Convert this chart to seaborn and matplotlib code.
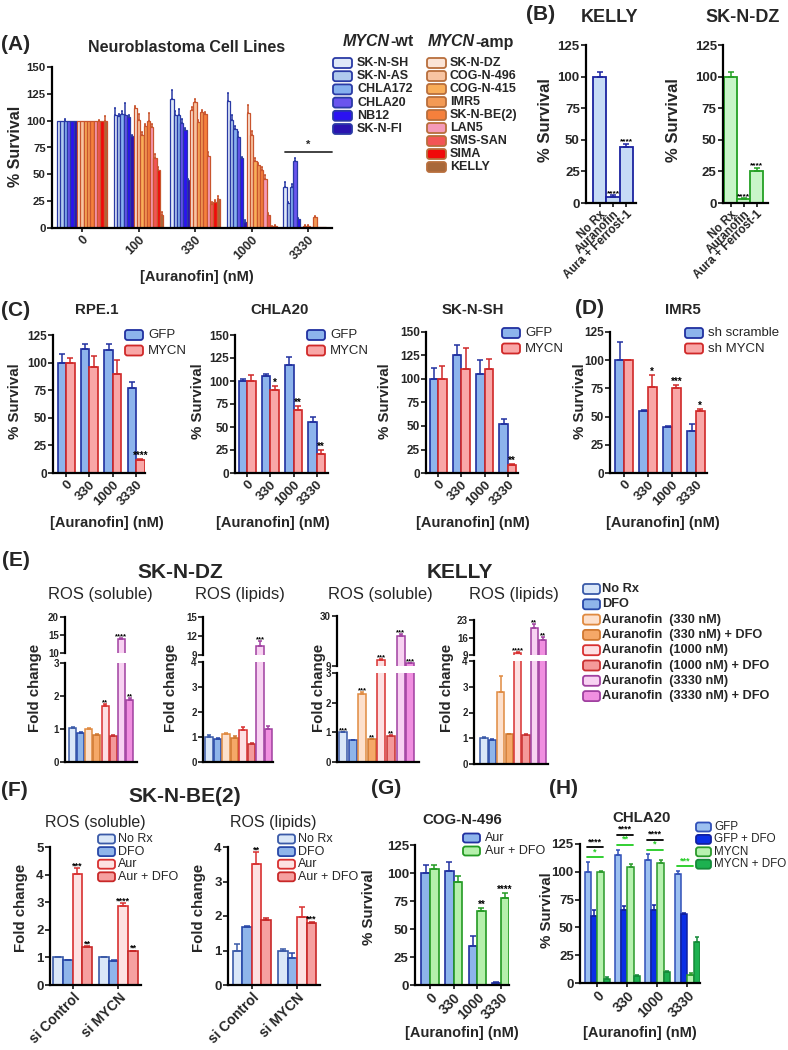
import numpy as np
import pandas as pd
import seaborn as sns
import matplotlib.pyplot as plt
from matplotlib.patches import FancyBboxPatch

W, H = 788, 1050

# ---------------- data ----------------
A_DOSES = ["0", "100", "330", "1000", "3330"]
A_WT = ["SK-N-SH", "SK-N-AS", "CHLA172", "CHLA20", "NB12", "SK-N-FI"]
A_AMP = ["SK-N-DZ", "COG-N-496", "COG-N-415", "IMR5", "SK-N-BE(2)", "LAN5",
         "SMS-SAN", "SIMA", "KELLY"]
# % survival per dose (order: A_WT then A_AMP)
A_SURV_0 = [100, 100, 100, 100, 100, 100, 100, 100, 100, 100, 100, 100, 100, 100, 100]
A_SURV_100 = [105, 104, 106, 105, 103, 86, 112, 101, 87, 95, 100, 94, 65, 54, 12]
A_SURV_330 = [120, 105, 105, 98, 91, 45, 110, 117, 99, 108, 106, 67, 22, 24, 27]
A_SURV_1000 = [118, 101, 92, 85, 65, 6, 107, 87, 62, 59, 54, 46, 12, 1, 1.5]
A_SURV_3330 = [38, 23, 38, 62, 8, 0.5, 1.5, 1.5, 1, 10, 1, 0.5, 0.5, 0.3, 0.2]
A_ERR_0 = [0, 0, 2, 0, 0, 0, 0, 0, 0, 0, 0, 0, 1, 0, 4]
A_ERR_100 = [7, 2, 3, 11, 2, 1, 2, 5, 2, 2, 7, 3, 4, 3, 3]
A_ERR_330 = [9, 4, 6, 4, 2, 1, 3, 3, 2, 2, 2, 4, 2, 2, 3]
A_ERR_1000 = [8, 4, 3, 4, 1, 1, 8, 3, 3, 2, 3, 3, 2, 1, 1]
A_ERR_3330 = [5, 1, 3, 3, 1, 0, 1, 1, 0, 1, 0, 0, 0, 0, 0]

B_TREAT = ["No Rx", "Auranofin", "Aura + Ferrost-1"]
B_KELLY = [100, 5, 44]
B_KELLY_ERR = [4, 1, 3]
B_KELLY_SIG = ["", "****", "****"]
B_SKNDZ = [100, 3, 25]
B_SKNDZ_ERR = [4, 1, 3]
B_SKNDZ_SIG = ["", "****", "****"]

C_DOSES = ["0", "330", "1000", "3330"]
C_GROUPS = ["GFP", "MYCN"]
RPE_GFP = [100, 112, 111, 77]
RPE_GFP_ERR = [8, 5, 6, 5]
RPE_MYCN = [100, 96, 90, 12]
RPE_MYCN_ERR = [4, 10, 12, 1]
RPE_SIG = ["", "", "", "****"]
CHLA20_GFP = [100, 105, 117, 55]
CHLA20_GFP_ERR = [2, 3, 9, 6]
CHLA20_MYCN = [100, 90, 69, 21]
CHLA20_MYCN_ERR = [7, 5, 4, 4]
CHLA20_SIG = ["", "*", "**", "**"]
SKNSH_GFP = [100, 125, 105, 52]
SKNSH_GFP_ERR = [12, 11, 15, 5]
SKNSH_MYCN = [100, 111, 111, 9]
SKNSH_MYCN_ERR = [14, 22, 10, 1]
SKNSH_SIG = ["", "", "", "**"]

D_GROUPS = ["sh scramble", "sh MYCN"]
IMR5_SCR = [100, 55, 41, 37]
IMR5_SCR_ERR = [16, 1, 1, 6]
IMR5_SH = [100, 76, 75, 55]
IMR5_SH_ERR = [0.5, 11, 3, 2]
IMR5_SIG = ["", "*", "***", "*"]

E_COND = ["No Rx", "DFO", "Auranofin  (330 nM)", "Auranofin  (330 nM) + DFO",
          "Auranofin  (1000 nM)", "Auranofin  (1000 nM) + DFO",
          "Auranofin  (3330 nM)", "Auranofin  (3330 nM) + DFO"]
E_DZ_SOL = [1.03, 0.88, 1.0, 0.83, 1.7, 0.8, 13.9, 1.88]
E_DZ_SOL_ERR = [0.02, 0.02, 0.02, 0.01, 0.06, 0.02, 0.3, 0.06]
E_DZ_SOL_SIG = ["", "", "", "", "**", "", "****", "**"]
E_DZ_LIP = [1.0, 0.92, 1.13, 0.95, 1.3, 0.72, 10.5, 1.33]
E_DZ_LIP_ERR = [0.1, 0.06, 0.04, 0.1, 0.12, 0.05, 0.7, 0.1]
E_DZ_LIP_SIG = ["", "", "", "", "", "", "***", ""]
E_KE_SOL = [1.0, 0.74, 2.28, 0.76, 11.5, 0.88, 21.5, 10.2]
E_KE_SOL_ERR = [0.02, 0.01, 0.07, 0.02, 0.3, 0.03, 1.0, 0.2]
E_KE_SOL_SIG = ["***", "", "***", "**", "***", "**", "***", "***"]
E_KE_LIP = [1.02, 0.94, 2.8, 1.15, 10.0, 1.13, 20.0, 15.0]
E_KE_LIP_ERR = [0.03, 0.02, 0.6, 0.03, 0.2, 0.02, 1.5, 1.2]
E_KE_LIP_SIG = ["", "", "", "", "****", "", "**", "**"]

F_SI = ["si Control", "si MYCN"]
F_TREAT = ["No Rx", "DFO", "Aur", "Aur + DFO"]
F_SOL = [[1.0, 1.0], [0.9, 0.87], [4.02, 2.87], [1.38, 1.22]]
F_SOL_ERR = [[0.02, 0.02], [0.02, 0.02], [0.22, 0.1], [0.03, 0.03]]
F_SOL_SIG = [["", ""], ["", ""], ["***", "****"], ["**", "**"]]
F_LIP = [[1.0, 1.0], [1.68, 0.77], [3.5, 1.97], [1.87, 1.8]]
F_LIP_ERR = [[0.2, 0.05], [0.02, 0.15], [0.35, 0.3], [0.08, 0.03]]
F_LIP_SIG = [["", ""], ["", ""], ["**", ""], ["", "***"]]

G_GROUPS = ["Aur", "Aur + DFO"]
G_AUR = [100, 102, 35, 2]
G_AUR_ERR = [7, 8, 9, 0.5]
G_AURDFO = [104, 92, 66, 78]
G_AURDFO_ERR = [3, 5, 3, 4]
G_SIG = ["", "", "**", "****"]

H_GROUPS = ["GFP", "GFP + DFO", "MYCN", "MYCN + DFO"]
H_GFP = [100, 115, 111, 98]
H_GFP_ERR = [9, 5, 5, 3]
H_GFPDFO = [60, 66, 66, 62]
H_GFPDFO_ERR = [6, 3, 4, 1]
H_MYCN = [100, 104, 108, 7]
H_MYCN_ERR = [1, 3, 3, 2]
H_MYCNDFO = [4, 6, 10, 37]
H_MYCNDFO_ERR = [1, 1, 1, 4]
H_SIG_GFP = ["****", "****", "****", ""]
H_SIG_MYCN = ["*", "**", "*", "***"]

# ---------------- colours ----------------
WT_FACE = ["#dfe9f8", "#b0caee", "#86b0ef", "#6a55ee", "#2b12f2", "#2a14b0"]
WT_EDGE = ["#2a3aa5"] * 6
AMP_FACE = ["#fbe4d6", "#f7c4a2", "#f9ad58", "#f39a55", "#f5803c", "#f59ab9",
            "#f25555", "#f00a0a", "#a8683a"]
AMP_EDGE = ["#c9552e"] * 9
LEG_AMP_EDGE = ["#b86e3c"] * 9
BLUE_F, BLUE_E = "#8db4ec", "#2030a0"
RED_F, RED_E = "#f9a7a7", "#d02828"
GREEN_F, GREEN_E = "#b5f0ac", "#239a23"
E_FACE = ["#dae7f8", "#8fb5ea", "#fde0cc", "#f5a868", "#fde0e2", "#f49a9a",
          "#f8d2f2", "#f08fe0"]
E_EDGE = ["#3a5aa8", "#2848a8", "#e08a40", "#d07830", "#d83030", "#c83030",
          "#a040a0", "#a040a0"]
F_FACE = ["#dae7f8", "#8fb5ea", "#fde2e2", "#f6a0a0"]
F_EDGE = ["#3a5aa8", "#2848a8", "#d83030", "#c82828"]
H_FACE = ["#9cc0f0", "#0a2ee6", "#b8f2b0", "#1db150"]
H_EDGE = ["#3050b8", "#1020a0", "#2a9a2a", "#148a38"]
SIG_GREEN = "#22cc22"

# ---------------- setup ----------------
sns.set_theme(style="ticks")
plt.rcParams["font.family"] = ["Liberation Sans", "DejaVu Sans"]
plt.rcParams["font.weight"] = "bold"
plt.rcParams["axes.linewidth"] = 1.6
plt.rcParams["axes.edgecolor"] = "black"

fig = plt.figure(figsize=(W / 100, H / 100), dpi=100)
fig.patch.set_facecolor("white")


def ax_px(x0, top, x1, bottom):
    ax = fig.add_axes([x0 / W, 1 - bottom / H, (x1 - x0) / W, (bottom - top) / H])
    ax.patch.set_alpha(0)
    return ax


def txt(x, y, s, size=10, weight="bold", ha="center", va="center", **kw):
    fig.text(x / W, 1 - y / H, s, size=size, weight=weight, ha=ha, va=va, **kw)


def up_err(ax, b, e, ec, cap):
    if e <= 0:
        return
    ax.errorbar([b.get_x() + b.get_width() / 2], [b.get_height()], yerr=[[0], [e]],
                fmt="none", ecolor=ec, elinewidth=1.1, capsize=cap, capthick=1.1)


def single(ax, cats, vals, errs, faces, edges, width, lw=1.2, cap=1.5):
    df = pd.DataFrame({"cat": cats, "val": vals})
    sns.barplot(data=df, x="cat", y="val", hue="cat", order=cats, hue_order=cats,
                palette=faces, width=width, errorbar=None, legend=False,
                saturation=1, ax=ax)
    bars = [cont[0] for cont in ax.containers]
    for b, e, ec in zip(bars, errs, edges):
        b.set_edgecolor(ec)
        b.set_linewidth(lw)
        up_err(ax, b, e, ec, cap)
    return bars


def grouped(ax, cats, groups, vals, errs, faces, edges, width, lw=1.2, cap=1.5):
    df = pd.DataFrame({"cat": np.tile(cats, len(groups)),
                       "grp": np.repeat(groups, len(cats)),
                       "val": np.concatenate(vals)})
    sns.barplot(data=df, x="cat", y="val", hue="grp", order=cats, hue_order=groups,
                palette=faces, width=width, errorbar=None, legend=False,
                saturation=1, ax=ax)
    bars = []
    for cont, ev, ec in zip(ax.containers, errs, edges):
        row = list(cont)
        for b, e in zip(row, ev):
            b.set_edgecolor(ec)
            b.set_linewidth(lw)
            up_err(ax, b, e, ec, cap)
        bars.append(row)
    return bars


def star(ax, b, e, s, size=6.5, color="black", dy=-1.5):
    if not s:
        return
    ax.annotate(s, (b.get_x() + b.get_width() / 2, b.get_height() + e), xytext=(0, dy),
                textcoords="offset points", ha="center", va="bottom", fontsize=size,
                weight="bold", color=color, annotation_clip=False)


def fmt(ax, ylim, yticks, xlim, size=8, xlabels=True, xsize=8):
    ax.set_ylim(*ylim)
    ax.set_yticks(yticks)
    ax.set_xlim(*xlim)
    sns.despine(ax=ax)
    ax.set_xlabel("")
    ax.set_ylabel("")
    ax.tick_params(axis="y", length=3.5, width=1.3, labelsize=size, pad=1)
    ax.tick_params(axis="x", length=3, width=1.3, labelsize=xsize, pad=1)
    if xlabels:
        for lab in ax.get_xticklabels():
            lab.set_rotation(45)
            lab.set_ha("right")
            lab.set_rotation_mode("anchor")
    else:
        ax.tick_params(axis="x", bottom=False, labelbottom=False)


def legend_px(x, y0, dy, labels, faces, edges, tx, size=9, weight="bold", bw=18, bh=10):
    for i, (lab, fc, ec) in enumerate(zip(labels, faces, edges)):
        yc = y0 + i * dy
        fig.patches.append(FancyBboxPatch(
            (x / 100, (H - yc - bh / 2) / 100), bw / 100, bh / 100,
            boxstyle="round,pad=0,rounding_size=0.025", transform=fig.dpi_scale_trans,
            fc=fc, ec=ec, lw=1.3, figure=fig))
        txt(tx, yc, lab, size=size, weight=weight, ha="left")


def ylab(x, y, s="% Survival", size=10.8):
    txt(x, y, s, size=size, rotation=90)


# ---------------- (A) ----------------
ax = ax_px(52, 67, 332, 228)
a_vals = [list(v) for v in zip(A_SURV_0, A_SURV_100, A_SURV_330, A_SURV_1000, A_SURV_3330)]
a_errs = [list(v) for v in zip(A_ERR_0, A_ERR_100, A_ERR_330, A_ERR_1000, A_ERR_3330)]
grouped(ax, A_DOSES, A_WT + A_AMP, a_vals, a_errs, WT_FACE + AMP_FACE,
        WT_EDGE + AMP_EDGE, 0.88, lw=0.9, cap=0.8)
fmt(ax, (0, 150), range(0, 151, 25), (-0.53, 4.42), size=8.2, xsize=9)
top3330 = max(v + e for v, e in zip(A_SURV_3330, A_ERR_3330)) + 6
ax.plot([3.59, 4.42], [top3330, top3330], color="#333333", lw=1.3, clip_on=False)
ax.text(4.0, top3330 + 2, "*", ha="center", va="bottom", fontsize=8, weight="bold")
txt(16, 45, "(A)", size=15)
txt(187, 47, "Neuroblastoma Cell Lines", size=11.5)
ylab(15, 146, size=11.5)
txt(197, 277, "[Auranofin] (nM)", size=10.5)
txt(390, 42, "MYCN", size=11.5, ha="right", style="italic")
txt(390, 42, "-wt", size=11.5, ha="left")
txt(475, 42, "MYCN", size=11.5, ha="right", style="italic")
txt(475, 42, "-amp", size=11.5, ha="left")
legend_px(333, 63, 13.2, A_WT, WT_FACE, WT_EDGE, 357, bw=19)
legend_px(427, 63, 13.0, A_AMP, AMP_FACE, LEG_AMP_EDGE, 450, bw=19)

# ---------------- (B) ----------------
for (x0, x1, xl, vals, errs, sig, fc, ec, title, tx, yx) in [
        (586, 636, (-1.03, 2.73), B_KELLY, B_KELLY_ERR, B_KELLY_SIG, "#c6dbf6", "#1b23a0", "KELLY", 610, 545),
        (723, 768, (-0.58, 2.88), B_SKNDZ, B_SKNDZ_ERR, B_SKNDZ_SIG, "#c8f5c8", "#23a023", "SK-N-DZ", 743, 673)]:
    ax = ax_px(x0, 45, x1, 203)
    bars = single(ax, B_TREAT, vals, errs, [fc] * 3, [ec] * 3, 1.0, lw=1.3, cap=2.5)
    fmt(ax, (0, 125), range(0, 126, 25), xl, size=9.5, xsize=8.5)
    for b, e, s in zip(bars, errs, sig):
        star(ax, b, e, s, size=6)
    txt(tx, 17, title, size=13)
    ylab(yx, 120, size=12)
txt(541, 15, "(B)", size=15)

# ---------------- (C) and (D) ----------------
c_panels = [
    (53, 145, 335, (-0.56, 3.38), (0, 125), RPE_GFP, RPE_GFP_ERR, RPE_MYCN, RPE_MYCN_ERR, RPE_SIG,
     "RPE.1", 97, 15, 107, 125, 335, C_GROUPS),
    (235, 328, 335, (-0.52, 3.48), (0, 150), CHLA20_GFP, CHLA20_GFP_ERR, CHLA20_MYCN, CHLA20_MYCN_ERR,
     CHLA20_SIG, "CHLA20", 280, 198, 273, 307, 335, C_GROUPS),
    (426, 518, 332, (-0.52, 3.43), (0, 150), SKNSH_GFP, SKNSH_GFP_ERR, SKNSH_MYCN, SKNSH_MYCN_ERR,
     SKNSH_SIG, "SK-N-SH", 473, 385, 473, 502, 333, C_GROUPS),
    (610, 707, 332, (-0.58, 3.46), (0, 125), IMR5_SCR, IMR5_SCR_ERR, IMR5_SH, IMR5_SH_ERR,
     IMR5_SIG, "IMR5", 683, 580, 663, 685, 333, D_GROUPS),
]
for (x0, x1, top, xl, yl, g, ge, m, me, sig, title, tx, yx, xlx, lgx, lgy, groups) in c_panels:
    ax = ax_px(x0, top, x1, 473)
    bars = grouped(ax, C_DOSES, groups, [g, m], [ge, me], [BLUE_F, RED_F], [BLUE_E, RED_E],
                   0.73, lw=1.2, cap=2)
    fmt(ax, yl, range(0, yl[1] + 1, 25), xl, size=8.5, xsize=9.5)
    for b, e, s in zip(bars[1], me, sig):
        star(ax, b, e, s, size=7)
    txt(tx, 310, title, size=10.8)
    ylab(yx, 401)
    txt(xlx, 523, "[Auranofin] (nM)", size=10.5)
    legend_px(lgx, lgy, 15.5, groups, [BLUE_F, RED_F], [BLUE_E, RED_E], lgx + 23,
              size=9.5, weight="normal")
txt(16, 310, "(C)", size=15)
txt(589, 309, "(D)", size=15)

# ---------------- (E) ----------------
e_panels = [
    (65, 137, (617, 653), (663, 762), (10, 20), [10, 15, 20], (0, 3), [0, 1, 2, 3], (-0.92, 7.91),
     E_DZ_SOL, E_DZ_SOL_ERR, E_DZ_SOL_SIG, "ROS (soluble)", 100, 35),
    (203, 273, (617, 655), (662, 762), (9, 15), [9, 12, 15], (0, 4), [0, 1, 2, 3, 4], (-0.71, 7.53),
     E_DZ_LIP, E_DZ_LIP_ERR, E_DZ_LIP_SIG, "ROS (lipids)", 240, 171),
    (337, 419, (616, 666), (673, 762), (9, 30), [9, 30], (0, 3), [0, 1, 2, 3], (-0.63, 7.92),
     E_KE_SOL, E_KE_SOL_ERR, E_KE_SOL_SIG, "ROS (soluble)", 380, 319),
    (474, 548, (620, 655), (661, 764), (9, 23), [9, 16, 23], (0, 4), [0, 1, 2, 3, 4], (-1.19, 7.62),
     E_KE_LIP, E_KE_LIP_ERR, E_KE_LIP_SIG, "ROS (lipids)", 514, 447),
]
for (x0, x1, up, lo, ul, ut, ll, lt, xl, vals, errs, sig, title, tx, yx) in e_panels:
    axu = ax_px(x0, up[0], x1, up[1])
    axl = ax_px(x0, lo[0], x1, lo[1])
    bu = single(axu, E_COND, vals, errs, E_FACE, E_EDGE, 0.85, lw=1.1, cap=1.5)
    bl = single(axl, E_COND, vals, errs, E_FACE, E_EDGE, 0.85, lw=1.1, cap=1.5)
    fmt(axu, ul, ut, xl, size=7, xlabels=False)
    axu.spines["bottom"].set_visible(False)
    fmt(axl, ll, lt, xl, size=7, xlabels=False)
    for i, s in enumerate(sig):
        if vals[i] > ll[1]:
            star(axu, bu[i], errs[i], s, size=5.5)
        else:
            star(axl, bl[i], errs[i], s, size=5.5)
    txt(tx, 595, title, size=12, weight="normal")
    ylab(yx, 688, "Fold change", size=10.8)
txt(16, 560, "(E)", size=15)
txt(180, 572, "SK-N-DZ", size=15)
txt(460, 572, "KELLY", size=15)
legend_px(583, 589, 15.3, E_COND, E_FACE, E_EDGE, 602, size=9.2, bw=17)

# ---------------- (F) ----------------
for (x0, x1, yl, xl, vals, errs, sig, title, tx, yx, lgx) in [
        (50, 141, (0, 5), (-0.49, 1.49), F_SOL, F_SOL_ERR, F_SOL_SIG, "ROS (soluble)", 95, 21, 98),
        (228, 320, (0, 4), (-0.52, 1.5), F_LIP, F_LIP_ERR, F_LIP_SIG, "ROS (lipids)", 273, 199, 278)]:
    ax = ax_px(x0, 847, x1, 985)
    bars = grouped(ax, F_SI, F_TREAT, vals, errs, F_FACE, F_EDGE, 0.84, lw=1.2, cap=2)
    fmt(ax, yl, range(0, yl[1] + 1), xl, size=9.5, xsize=10)
    for row, er, sg in zip(bars, errs, sig):
        for b, e, s in zip(row, er, sg):
            star(ax, b, e, s, size=6.5)
    txt(tx, 823, title, size=11.5, weight="normal")
    ylab(yx, 908, "Fold change", size=10.8)
    legend_px(lgx, 839, 12.6, F_TREAT, F_FACE, F_EDGE, lgx + 20, size=9, weight="normal",
              bw=17, bh=9)
txt(14, 790, "(F)", size=15)
txt(185, 797, "SK-N-BE(2)", size=15)

# ---------------- (G) ----------------
ax = ax_px(415, 845, 509, 985)
bars = grouped(ax, C_DOSES, G_GROUPS, [G_AUR, G_AURDFO], [G_AUR_ERR, G_AURDFO_ERR],
               [BLUE_F, GREEN_F], [BLUE_E, GREEN_E], 0.73, lw=1.2, cap=2)
fmt(ax, (0, 125), range(0, 126, 25), (-0.64, 3.35), size=9.5, xsize=10)
for b, e, s in zip(bars[1], G_AURDFO_ERR, G_SIG):
    star(ax, b, e, s, size=7)
txt(386, 788, "(G)", size=15)
txt(462, 820, "COG-N-496", size=10.8)
ylab(369, 907)
txt(462, 1033, "[Auranofin] (nM)", size=10.5)
legend_px(463, 838, 13, G_GROUPS, [BLUE_F, GREEN_F], [BLUE_E, GREEN_E], 485, size=9,
          weight="normal", bw=17, bh=9)

# ---------------- (H) ----------------
ax = ax_px(580, 844, 700, 983)
h_vals = [H_GFP, H_GFPDFO, H_MYCN, H_MYCNDFO]
h_errs = [H_GFP_ERR, H_GFPDFO_ERR, H_MYCN_ERR, H_MYCNDFO_ERR]
bars = grouped(ax, C_DOSES, H_GROUPS, h_vals, h_errs, H_FACE, H_EDGE, 0.83, lw=1.1, cap=1.5)
fmt(ax, (0, 125), range(0, 126, 25), (-0.58, 3.42), size=9.5, xsize=10)
for i in range(len(C_DOSES)):
    green_y = H_GFP[i] + H_GFP_ERR[i] + 4
    black_y = green_y + 9
    for yy, s, col in [(green_y, H_SIG_MYCN[i], SIG_GREEN), (black_y, H_SIG_GFP[i], "black")]:
        if s:
            ax.plot([i - 0.36, i + 0.2], [yy, yy], color=col, lw=1.3, clip_on=False)
            ax.text(i - 0.08, yy + 1, s, ha="center", va="bottom", fontsize=6.5,
                    weight="bold", color=col)
txt(564, 788, "(H)", size=15)
txt(642, 818, "CHLA20", size=10.8)
ylab(547, 910)
txt(640, 1033, "[Auranofin] (nM)", size=10.5)
legend_px(696, 827, 12.4, H_GROUPS, H_FACE, H_EDGE, 714, size=8.4, weight="normal",
          bw=15, bh=9)

fig.savefig("out.png", dpi=100, facecolor="white")
